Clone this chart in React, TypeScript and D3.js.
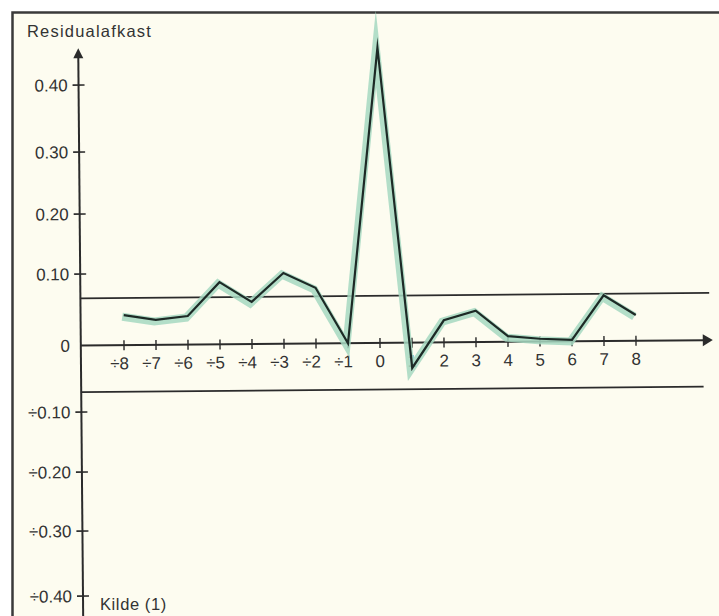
import { useEffect, useRef } from 'react';
import * as d3 from 'd3';

// lags (months around event) and residual returns
const lags = [-8, -7, -6, -5, -4, -3, -2, -1, 0, 1, 2, 3, 4, 5, 6, 7, 8];
const residuals = [0.042, 0.035, 0.04, 0.087, 0.059, 0.099, 0.078, 0.0, 0.452, -0.038, 0.031, 0.044, 0.008, 0.004, 0.002, 0.064, 0.036];
const yTicks = [-0.4, -0.3, -0.2, -0.1, 0, 0.1, 0.2, 0.3, 0.4];
const bandLimits = [0.066, -0.07];

const fmtY = (v: number) => (v === 0 ? '0' : (v < 0 ? '÷' : '') + Math.abs(v).toFixed(2));
const fmtX = (v: number) => (v < 0 ? '÷' : '') + Math.abs(v);

const App = () => {
  const svgRef = useRef<SVGSVGElement>(null);

  useEffect(() => {
    if (!svgRef.current) return;
    const width = 719;
    const height = 616;
    const svg = d3.select(svgRef.current);
    svg.selectAll('*').remove();

    const font = '"Liberation Sans", Arial, sans-serif';
    const ink = '#2b2b2b';
    const textInk = '#333333';

    // paper + frame
    svg.append('rect').attr('width', width).attr('height', height).attr('fill', '#ffffff');
    svg.append('rect').attr('x', 12).attr('y', 12).attr('width', width).attr('height', height).attr('fill', '#fdfcf0');
    svg.append('path')
      .attr('d', `M12.5,${height} V12.5 H${width}`)
      .attr('fill', 'none')
      .attr('stroke', '#3a3a3a')
      .attr('stroke-width', 2.5);

    // hand drawn scale, ticks are not quite evenly spaced
    const x = d3.scaleLinear().domain([-8, 8]).range([124, 636]);
    const y = d3.scaleLinear()
      .domain(yTicks)
      .range([593.5, 528.5, 469.5, 409.5, 343, 271.5, 211.5, 149.5, 82.5]);

    const xLeft = -9.35; // where the y axis sits
    const xRight = 10.4; // arrow tip
    const x0 = x(xLeft);
    const y0 = y(0);

    // the scan is slightly rotated
    const g = svg.append('g').attr('transform', `rotate(-0.5, 379, 343)`);

    // confidence band lines
    g.append('g')
      .selectAll('line')
      .data(bandLimits)
      .join('line')
      .attr('x1', x0)
      .attr('x2', (d, i) => x(i === 0 ? 10.3 : 10.1))
      .attr('y1', d => y(d))
      .attr('y2', d => y(d))
      .attr('stroke', ink)
      .attr('stroke-width', 1.8);

    // x axis
    g.append('line')
      .attr('x1', x0).attr('x2', x(xRight) - 8)
      .attr('y1', y0).attr('y2', y0)
      .attr('stroke', ink).attr('stroke-width', 2);
    g.append('path')
      .attr('d', `M${x(xRight)},${y0} L${x(xRight) - 10},${y0 - 6} L${x(xRight) - 10},${y0 + 6} Z`)
      .attr('fill', ink);

    g.append('g')
      .selectAll('line')
      .data(lags)
      .join('line')
      .attr('x1', d => x(d)).attr('x2', d => x(d))
      .attr('y1', y0 - 5).attr('y2', y0 + 5)
      .attr('stroke', ink).attr('stroke-width', 1.4);

    g.append('g')
      .selectAll('text')
      .data(lags)
      .join('text')
      .attr('x', d => x(d) + 4.8)
      .attr('y', y0 + 24)
      .attr('text-anchor', 'end')
      .attr('font-family', font)
      .attr('font-size', 17)
      .attr('fill', textInk)
      .text(d => fmtX(d));

    // y axis
    const yTop = y(0.455);
    g.append('line')
      .attr('x1', x0).attr('x2', x0)
      .attr('y1', yTop + 8).attr('y2', height + 10)
      .attr('stroke', ink).attr('stroke-width', 2);
    g.append('path')
      .attr('d', `M${x0},${yTop} L${x0 - 5},${yTop + 10} L${x0 + 5},${yTop + 10} Z`)
      .attr('fill', ink);

    g.append('g')
      .selectAll('line')
      .data(yTicks.filter(d => d !== 0))
      .join('line')
      .attr('x1', x0 - 6).attr('x2', x0 + 6)
      .attr('y1', d => y(d)).attr('y2', d => y(d))
      .attr('stroke', ink).attr('stroke-width', 1.6);

    g.append('g')
      .selectAll('text')
      .data(yTicks)
      .join('text')
      .attr('x', x0 - 11)
      .attr('y', d => y(d) + 6)
      .attr('text-anchor', 'end')
      .attr('font-family', font)
      .attr('font-size', 17)
      .attr('fill', textInk)
      .text(d => fmtY(d));

    // residual series: green highlight under a dark line
    const points: [number, number][] = lags.map((d, i) => [x(d), y(residuals[i])]);
    const line = d3.line();

    g.append('path')
      .attr('d', line(points))
      .attr('transform', 'translate(-1.5,1.5)')
      .attr('fill', 'none')
      .attr('stroke', '#a6d8c1')
      .attr('stroke-opacity', 0.85)
      .attr('stroke-width', 8)
      .attr('stroke-linejoin', 'miter')
      .attr('stroke-miterlimit', 12);

    g.append('path')
      .attr('d', line(points))
      .attr('fill', 'none')
      .attr('stroke', '#1d2a26')
      .attr('stroke-width', 2.2)
      .attr('stroke-linejoin', 'miter')
      .attr('stroke-miterlimit', 12);

    // labels
    svg.append('text')
      .attr('x', 27).attr('y', 37)
      .attr('font-family', font)
      .attr('font-size', 16.5)
      .attr('letter-spacing', 1.2)
      .attr('fill', textInk)
      .text('Residualafkast');

    svg.append('text')
      .attr('x', 100).attr('y', 610)
      .attr('font-family', font)
      .attr('font-size', 16.5)
      .attr('letter-spacing', 0.6)
      .attr('fill', textInk)
      .text('Kilde (1)');
  }, []);

  return (
    <svg
      ref={svgRef}
      width={719}
      height={616}
      style={{ position: 'absolute', left: 0, top: 0, display: 'block' }}
    />
  );
};

export default App;
